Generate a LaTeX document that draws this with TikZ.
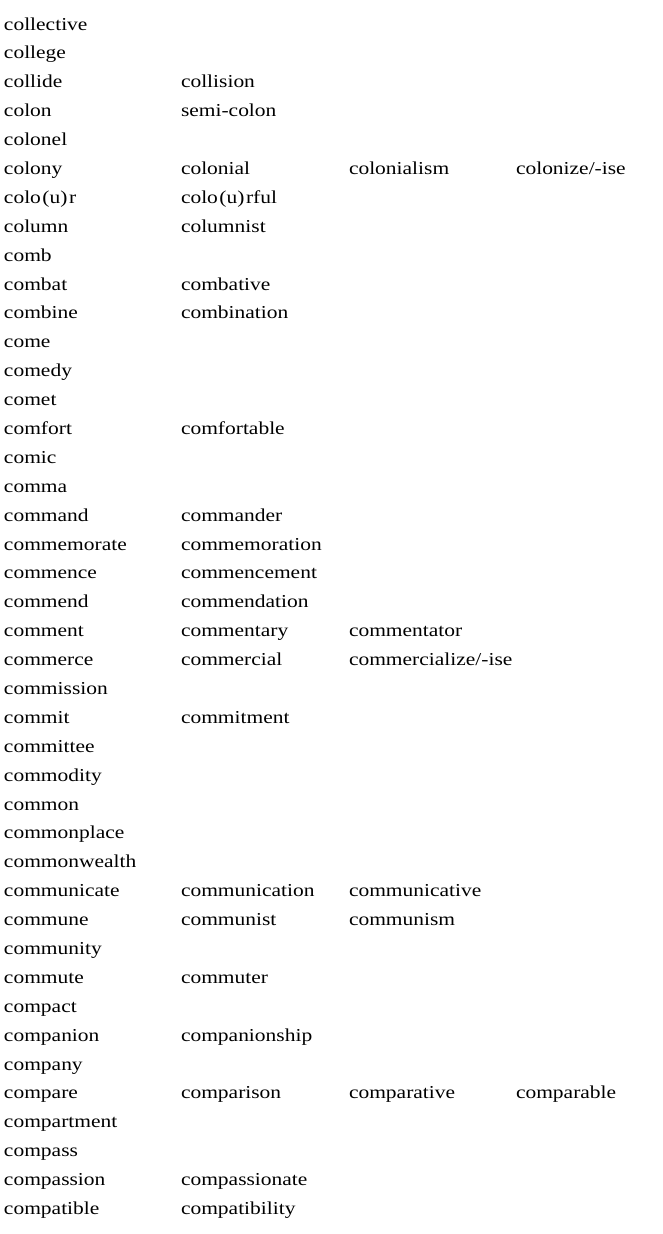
\documentclass[tikz,border=0pt]{standalone}
\usepackage{fontspec}
\setmainfont{Liberation Serif}[FakeStretch=1.18]
\tikzset{
  word/.style={anchor=base west, inner sep=0pt, outer sep=0pt, font=\fontsize{18.2pt}{20pt}\selectfont},
}
\newcommand{\paren}[1]{\kern1.5pt(#1)\kern1.5pt}
\begin{document}
\begin{tikzpicture}[x=1pt,y=-1pt]
\useasboundingbox (0,0) rectangle (662,1234);
\def\rs{28.89}
\def\ca{4}\def\cb{181}\def\cc{349}\def\cd{516}
\newcommand{\rowy}[1]{30+(#1-1)*\rs}
\node[word] (r1a) at (\ca,{\rowy{1}}) {collective};
\node[word] (r2a) at (\ca,{\rowy{2}}) {college};
\node[word] (r3a) at (\ca,{\rowy{3}}) {collide};
\node[word] (r3b) at (\cb,{\rowy{3}}) {collision};
\node[word] (r4a) at (\ca,{\rowy{4}}) {colon};
\node[word] (r4b) at (\cb,{\rowy{4}}) {semi-colon};
\node[word] (r5a) at (\ca,{\rowy{5}}) {colonel};
\node[word] (r6a) at (\ca,{\rowy{6}}) {colony};
\node[word] (r6b) at (\cb,{\rowy{6}}) {colonial};
\node[word] (r6c) at (\cc,{\rowy{6}}) {colonialism};
\node[word] (r6d) at (\cd,{\rowy{6}}) {colonize/-ise};
\node[word] (r7a) at (\ca,{\rowy{7}}) {colo\paren{u}r};
\node[word] (r7b) at (\cb,{\rowy{7}}) {colo\paren{u}rful};
\node[word] (r8a) at (\ca,{\rowy{8}}) {column};
\node[word] (r8b) at (\cb,{\rowy{8}}) {columnist};
\node[word] (r9a) at (\ca,{\rowy{9}}) {comb};
\node[word] (r10a) at (\ca,{\rowy{10}}) {combat};
\node[word] (r10b) at (\cb,{\rowy{10}}) {combative};
\node[word] (r11a) at (\ca,{\rowy{11}}) {combine};
\node[word] (r11b) at (\cb,{\rowy{11}}) {combination};
\node[word] (r12a) at (\ca,{\rowy{12}}) {come};
\node[word] (r13a) at (\ca,{\rowy{13}}) {comedy};
\node[word] (r14a) at (\ca,{\rowy{14}}) {comet};
\node[word] (r15a) at (\ca,{\rowy{15}}) {comfort};
\node[word] (r15b) at (\cb,{\rowy{15}}) {comfortable};
\node[word] (r16a) at (\ca,{\rowy{16}}) {comic};
\node[word] (r17a) at (\ca,{\rowy{17}}) {comma};
\node[word] (r18a) at (\ca,{\rowy{18}}) {command};
\node[word] (r18b) at (\cb,{\rowy{18}}) {commander};
\node[word] (r19a) at (\ca,{\rowy{19}}) {commemorate};
\node[word] (r19b) at (\cb,{\rowy{19}}) {commemoration};
\node[word] (r20a) at (\ca,{\rowy{20}}) {commence};
\node[word] (r20b) at (\cb,{\rowy{20}}) {commencement};
\node[word] (r21a) at (\ca,{\rowy{21}}) {commend};
\node[word] (r21b) at (\cb,{\rowy{21}}) {commendation};
\node[word] (r22a) at (\ca,{\rowy{22}}) {comment};
\node[word] (r22b) at (\cb,{\rowy{22}}) {commentary};
\node[word] (r22c) at (\cc,{\rowy{22}}) {commentator};
\node[word] (r23a) at (\ca,{\rowy{23}}) {commerce};
\node[word] (r23b) at (\cb,{\rowy{23}}) {commercial};
\node[word] (r23c) at (\cc,{\rowy{23}}) {commercialize/-ise};
\node[word] (r24a) at (\ca,{\rowy{24}}) {commission};
\node[word] (r25a) at (\ca,{\rowy{25}}) {commit};
\node[word] (r25b) at (\cb,{\rowy{25}}) {commitment};
\node[word] (r26a) at (\ca,{\rowy{26}}) {committee};
\node[word] (r27a) at (\ca,{\rowy{27}}) {commodity};
\node[word] (r28a) at (\ca,{\rowy{28}}) {common};
\node[word] (r29a) at (\ca,{\rowy{29}}) {commonplace};
\node[word] (r30a) at (\ca,{\rowy{30}}) {commonwealth};
\node[word] (r31a) at (\ca,{\rowy{31}}) {communicate};
\node[word] (r31b) at (\cb,{\rowy{31}}) {communication};
\node[word] (r31c) at (\cc,{\rowy{31}}) {communicative};
\node[word] (r32a) at (\ca,{\rowy{32}}) {commune};
\node[word] (r32b) at (\cb,{\rowy{32}}) {communist};
\node[word] (r32c) at (\cc,{\rowy{32}}) {communism};
\node[word] (r33a) at (\ca,{\rowy{33}}) {community};
\node[word] (r34a) at (\ca,{\rowy{34}}) {commute};
\node[word] (r34b) at (\cb,{\rowy{34}}) {commuter};
\node[word] (r35a) at (\ca,{\rowy{35}}) {compact};
\node[word] (r36a) at (\ca,{\rowy{36}}) {companion};
\node[word] (r36b) at (\cb,{\rowy{36}}) {companionship};
\node[word] (r37a) at (\ca,{\rowy{37}}) {company};
\node[word] (r38a) at (\ca,{\rowy{38}}) {compare};
\node[word] (r38b) at (\cb,{\rowy{38}}) {comparison};
\node[word] (r38c) at (\cc,{\rowy{38}}) {comparative};
\node[word] (r38d) at (\cd,{\rowy{38}}) {comparable};
\node[word] (r39a) at (\ca,{\rowy{39}}) {compartment};
\node[word] (r40a) at (\ca,{\rowy{40}}) {compass};
\node[word] (r41a) at (\ca,{\rowy{41}}) {compassion};
\node[word] (r41b) at (\cb,{\rowy{41}}) {compassionate};
\node[word] (r42a) at (\ca,{\rowy{42}}) {compatible};
\node[word] (r42b) at (\cb,{\rowy{42}}) {compatibility};
\end{tikzpicture}
\end{document}
